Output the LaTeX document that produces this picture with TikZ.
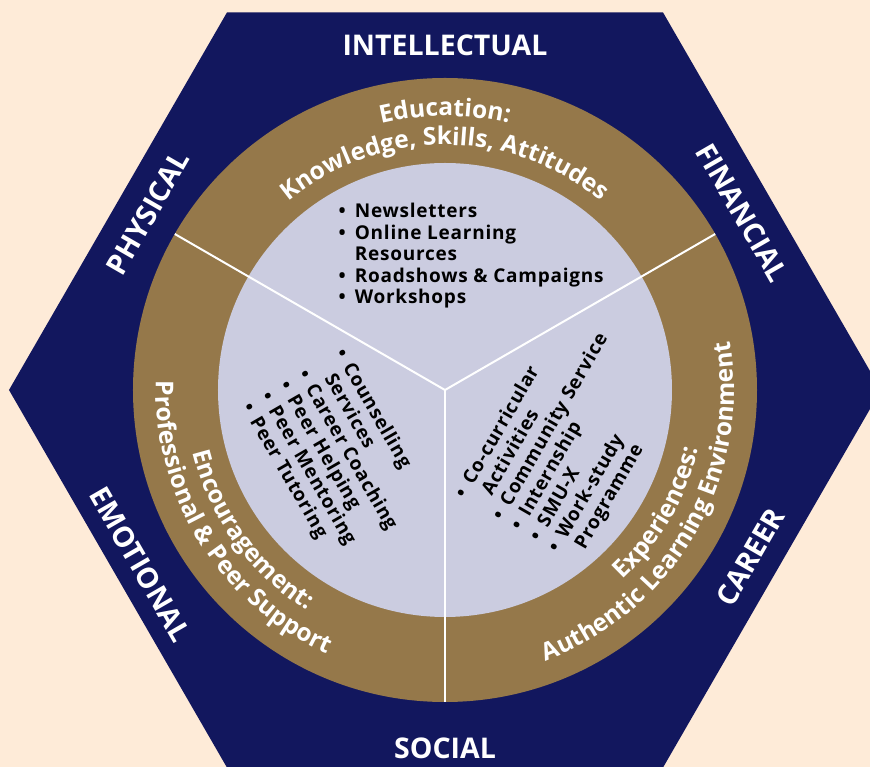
\documentclass[tikz,border=0pt]{standalone}
\usepackage{fontspec}
\setmainfont{Open Sans}
\usepackage{xcolor}
\usetikzlibrary{decorations.text}
\definecolor{hexnavy}{HTML}{12175E}
\definecolor{ringbrown}{HTML}{95784A}
\definecolor{corelilac}{HTML}{CBCCE0}
\definecolor{pagepeach}{HTML}{FEEBD8}
\newcommand{\ringfont}{\fontsize{24.5}{28}\selectfont\bfseries\color{white}}
\tikzset{
  sidelabel/.style={text=white, inner sep=0pt, font=\fontsize{28.5}{32}\selectfont\bfseries},
  itemlist/.style={anchor=base west, inner sep=0pt, font=\fontsize{19}{21.5}\selectfont\bfseries\addfontfeatures{LetterSpace=4}},
  ringtext/.style={decorate, decoration={text along path, text align=center, text={#1}}},
  spoke/.style={white, line width=2pt}
}

\begin{document}
\begin{tikzpicture}[x=1pt,y=1pt]
\useasboundingbox (-445,-377) rectangle (425,390);
\fill[pagepeach] (-445,-377) rectangle (425,390);
%% hexagon and rings
\fill[hexnavy] (0:436) \foreach \a in {60,120,...,300} {-- (\a:436)} -- cycle;
\fill[ringbrown] (0,0) circle (312);
\fill[corelilac] (0,0) circle (227);
%% spokes
\coordinate (hub) at (0,0);
\foreach \a in {30,150,270} {
  \coordinate (rim\a) at (\a:312);
  \draw[spoke] (hub) -- (rim\a);
}
%% hexagon labels
\node[sidelabel] (intellectual) at (90:345) {INTELLECTUAL};
\node[sidelabel, rotate=-60] (financial) at (30.8:346) {FINANCIAL};
\node[sidelabel, rotate=60] (physical) at (149.2:346) {PHYSICAL};
\node[sidelabel, rotate=-60] (emotional) at (209.8:351) {EMOTIONAL};
\node[sidelabel, rotate=60] (career) at (331.3:348) {CAREER};
\node[sidelabel] (social) at (0,-358) {SOCIAL};
%% ring texts
\path[ringtext={|\ringfont|Education:}] (150:274) arc[start angle=150, end angle=30, radius=274];
\path[ringtext={|\ringfont|Knowledge, Skills, Attitudes}] (150:245) arc[start angle=150, end angle=30, radius=245];
\path[ringtext={|\ringfont|Encouragement:}] (156:260) arc[start angle=156, end angle=276, radius=260];
\path[ringtext={|\ringfont|Professional {\&} Peer Support}] (152:289) arc[start angle=152, end angle=272, radius=289];
\path[ringtext={|\ringfont|Experiences:}] (270:260) arc[start angle=270, end angle=390, radius=260];
\path[ringtext={|\ringfont|Authentic Learning Environment}] (270:289) arc[start angle=270, end angle=390, radius=289];
%% lists
\node[itemlist] (edulist) at (-106.5,172) {\begin{tabular}[t]{@{}l@{\hspace{9pt}}l@{}}
\textbullet & Newsletters\\
\textbullet & Online Learning\\
 & Resources\\
\textbullet & Roadshows \& Campaigns\\
\textbullet & Workshops
\end{tabular}};
\node[itemlist, rotate=-60] (encourlist) at (-110.5,36.7) {\begin{tabular}[t]{@{}l@{\hspace{9pt}}l@{}}
\textbullet & Counselling\\
 & Services\\
\textbullet & Career Coaching\\
\textbullet & Peer Helping\\
\textbullet & Peer Mentoring\\
\textbullet & Peer Tutoring
\end{tabular}};
\node[itemlist, rotate=60] (explist) at (20,-109.7) {\begin{tabular}[t]{@{}l@{\hspace{9pt}}l@{}}
\textbullet & Co-curricular\\
 & Activities\\
\textbullet & Community Service\\
\textbullet & Internship\\
\textbullet & SMU-X\\
\textbullet & Work-study\\
 & Programme
\end{tabular}};
\end{tikzpicture}
\end{document}
